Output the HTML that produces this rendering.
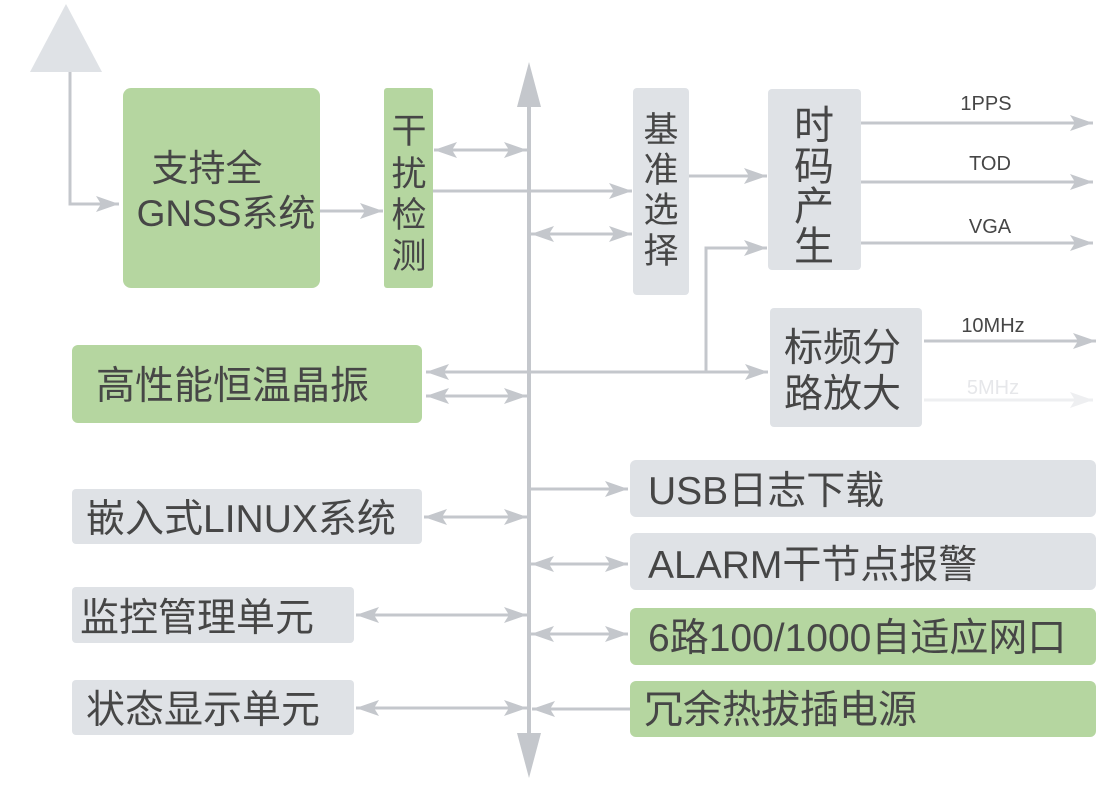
<!DOCTYPE html>
<html><head><meta charset="utf-8"><style>
html,body{margin:0;padding:0;background:#fff;}
svg{display:block;}
text{font-family:"Liberation Sans","Noto Sans CJK SC",sans-serif;fill:#464646;}
</style></head><body>
<svg width="1119" height="791" viewBox="0 0 1119 791" xmlns="http://www.w3.org/2000/svg">
<defs>
<marker id="a" markerUnits="userSpaceOnUse" markerWidth="24" markerHeight="16" refX="23" refY="8" orient="auto-start-reverse"><path d="M0,0 L23,8 L0,16 L5,8 Z" fill="#c4c7cc"/></marker>
<marker id="b" markerUnits="userSpaceOnUse" markerWidth="24" markerHeight="16" refX="23" refY="8" orient="auto-start-reverse"><path d="M0,0 L23,8 L0,16 L5,8 Z" fill="#eeeff1"/></marker>
</defs>
<g fill="none" stroke="#c4c7cc" stroke-width="3">
<polyline points="70,72 70,204 119,204" marker-end="url(#a)"/>
<line x1="320" y1="211" x2="383" y2="211" marker-end="url(#a)"/>
<line x1="434" y1="150" x2="527" y2="150" marker-start="url(#a)" marker-end="url(#a)"/>
<line x1="433" y1="191" x2="632" y2="191" marker-end="url(#a)"/>
<line x1="531" y1="234" x2="632" y2="234" marker-start="url(#a)" marker-end="url(#a)"/>
<line x1="689" y1="176" x2="767" y2="176" marker-end="url(#a)"/>
<line x1="861" y1="123" x2="1093" y2="123" marker-end="url(#a)"/>
<line x1="861" y1="182" x2="1093" y2="182" marker-end="url(#a)"/>
<line x1="861" y1="243" x2="1093" y2="243" marker-end="url(#a)"/>
<polyline points="706,372 706,248 767,248" marker-end="url(#a)"/>
<line x1="426" y1="372" x2="768" y2="372" marker-start="url(#a)" marker-end="url(#a)"/>
<line x1="426" y1="396" x2="527" y2="396" marker-start="url(#a)" marker-end="url(#a)"/>
<line x1="924" y1="341" x2="1096" y2="341" marker-end="url(#a)"/>
<line x1="924" y1="400" x2="1093" y2="400" stroke="#eeeff1" marker-end="url(#b)"/>
<line x1="531" y1="489" x2="628" y2="489" marker-end="url(#a)"/>
<line x1="531" y1="564" x2="628" y2="564" marker-start="url(#a)" marker-end="url(#a)"/>
<line x1="531" y1="634" x2="628" y2="634" marker-start="url(#a)" marker-end="url(#a)"/>
<line x1="630" y1="709" x2="532" y2="709" marker-end="url(#a)"/>
<line x1="424" y1="517" x2="527" y2="517" marker-start="url(#a)" marker-end="url(#a)"/>
<line x1="356" y1="615" x2="527" y2="615" marker-start="url(#a)" marker-end="url(#a)"/>
<line x1="356" y1="708" x2="527" y2="708" marker-start="url(#a)" marker-end="url(#a)"/>
<line x1="529" y1="100" x2="529" y2="740" stroke-width="4"/>
</g>
<polygon points="529,62 541,107 517,107" fill="#c4c7cc"/>
<polygon points="529,778 541,733 517,733" fill="#c4c7cc"/>
<polygon points="66,4 102,72 30,72" fill="#dfe2e6"/>

<rect x="123" y="88" width="197" height="200" rx="8" fill="#b5d6a0"/>
<rect x="384" y="88" width="49" height="200" rx="3" fill="#b5d6a0"/>
<rect x="633" y="88" width="56" height="207" rx="4" fill="#dfe2e6"/>
<rect x="768" y="89" width="93" height="181" rx="4" fill="#dfe2e6"/>
<rect x="770" y="308" width="152" height="119" rx="4" fill="#dfe2e6"/>
<rect x="72" y="345" width="350" height="78" rx="6" fill="#b5d6a0"/>
<rect x="72" y="489" width="350" height="55" rx="4" fill="#dfe2e6"/>
<rect x="72" y="587" width="282" height="56" rx="4" fill="#dfe2e6"/>
<rect x="72" y="680" width="282" height="55" rx="4" fill="#dfe2e6"/>
<rect x="630" y="460" width="466" height="57" rx="6" fill="#dfe2e6"/>
<rect x="630" y="533" width="466" height="57" rx="6" fill="#dfe2e6"/>
<rect x="630" y="608" width="466" height="57" rx="6" fill="#b5d6a0"/>
<rect x="630" y="681" width="466" height="56" rx="6" fill="#b5d6a0"/>

<g font-size="37" text-anchor="middle">
<text x="207" y="181">支持全</text>
<text x="226" y="226">GNSS系统</text>
</g>
<g font-size="35" text-anchor="middle">
<text x="409" y="143">干</text>
<text x="409" y="186">扰</text>
<text x="409" y="227">检</text>
<text x="409" y="268">测</text>
<text x="661" y="142">基</text>
<text x="661" y="182">准</text>
<text x="661" y="222">选</text>
<text x="661" y="263">择</text>
</g>
<g font-size="40" text-anchor="middle">
<text x="814" y="139">时</text>
<text x="814" y="180">码</text>
<text x="814" y="220">产</text>
<text x="814" y="260">生</text>
</g>
<g font-size="39">
<text x="784" y="361">标频分</text>
<text x="784" y="407">路放大</text>
<text x="96" y="399">高性能恒温晶振</text>
<text x="86" y="532">嵌入式LINUX系统</text>
<text x="80" y="631">监控管理单元</text>
<text x="86" y="723">状态显示单元</text>
<text x="648" y="504">USB日志下载</text>
<text x="648" y="578">ALARM干节点报警</text>
<text x="648" y="651">6路100/1000自适应网口</text>
<text x="644" y="723">冗余热拔插电源</text>
</g>
<g font-size="20" text-anchor="middle">
<text x="986" y="110">1PPS</text>
<text x="990" y="170">TOD</text>
<text x="990" y="233">VGA</text>
<text x="993" y="332">10MHz</text>
<text x="993" y="394" style="fill:#e6e7ea">5MHz</text>
</g>
</svg>
</body></html>
